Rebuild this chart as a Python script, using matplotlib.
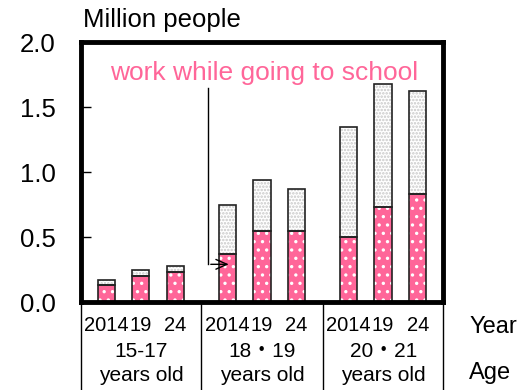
import matplotlib
matplotlib.use("Agg")
import matplotlib.pyplot as plt
from matplotlib.lines import Line2D
import numpy as np

plt.rcParams['font.family'] = ['Liberation Sans', 'Noto Sans CJK JP', 'DejaVu Sans']

# million people, by age group and survey year
years = ["2014", "19", "24"]
ages = ["15-17\nyears old", "18\u30fb19\nyears old", "20\u30fb21\nyears old"]
working = [0.13, 0.20, 0.23, 0.37, 0.55, 0.55, 0.50, 0.73, 0.83]
total = [0.17, 0.25, 0.28, 0.75, 0.94, 0.87, 1.35, 1.68, 1.62]

pink = '#ff6699'
pos = np.array([0, 1, 2, 3.5, 4.5, 5.5, 7, 8, 9])
other = np.array(total) - np.array(working)
w = 0.5

fig = plt.figure(figsize=(5.19, 3.90), dpi=100)
ax = fig.add_axes([0.156, 0.2256, 0.6976, 0.6667])

# pink part with white dots
plt.rcParams['hatch.linewidth'] = 1.2
ax.bar(pos, working, w, color=pink, edgecolor='white', hatch='..', linewidth=0, zorder=2)
ax.bar(pos, working, w, fill=False, edgecolor='#222222', linewidth=1.2, zorder=3)
# grey stipple on top
ax.bar(pos, other, w, bottom=working, color='white', edgecolor='#c8c8c8', hatch='.....',
       linewidth=0, zorder=2)
ax.bar(pos, other, w, bottom=working, fill=False, edgecolor='#222222', linewidth=1.2, zorder=3)

ax.set_xlim(-0.73, 9.73)
ax.set_ylim(0, 2.0)
ax.set_yticks([0, 0.5, 1.0, 1.5, 2.0])
ax.set_yticklabels(['0.0', '0.5', '1.0', '1.5', '2.0'])
ax.tick_params(axis='y', direction='in', length=7, width=1, labelsize=18.5, pad=18)
for s in ax.spines.values():
    s.set_linewidth(3.5)
    s.set_zorder(5)

ax.set_xticks(pos)
ax.set_xticklabels(years * 3)
ax.tick_params(axis='x', length=0, labelsize=14.5, pad=10)

# group labels and separators below the axis
for i, lab in enumerate(ages):
    ax.text(pos[3 * i + 1], -0.155, lab, transform=ax.get_xaxis_transform(),
            ha='center', va='top', fontsize=15, linespacing=1.3)
for xs in [-0.73, 2.75, 6.25, 9.73]:
    ax.add_line(Line2D([xs, xs], [0, -0.34], transform=ax.get_xaxis_transform(),
                       color='black', linewidth=1, clip_on=False))

fig.text(469 / 519, 1 - 327 / 390, 'Year', fontsize=17, va='center', ha='left')
fig.text(469 / 519, 1 - 373 / 390, 'Age', fontsize=17, va='center', ha='left')
fig.text(83 / 519, 1 - 20 / 390, 'Million people', fontsize=18.5, va='center', ha='left')

# callout for the pink series
ax.text(4.55, 1.76, 'work while going to school', color=pink, fontsize=19,
        ha='center', va='center')
ax.plot([2.95, 2.95], [1.65, 0.29], color='black', linewidth=1, zorder=4)
ax.annotate('', xy=(3.62, 0.29), xytext=(2.94, 0.29),
            arrowprops=dict(arrowstyle='->, head_length=0.8, head_width=0.35',
                            color='black', linewidth=1), zorder=4)

fig.savefig('out.png', dpi=100)
